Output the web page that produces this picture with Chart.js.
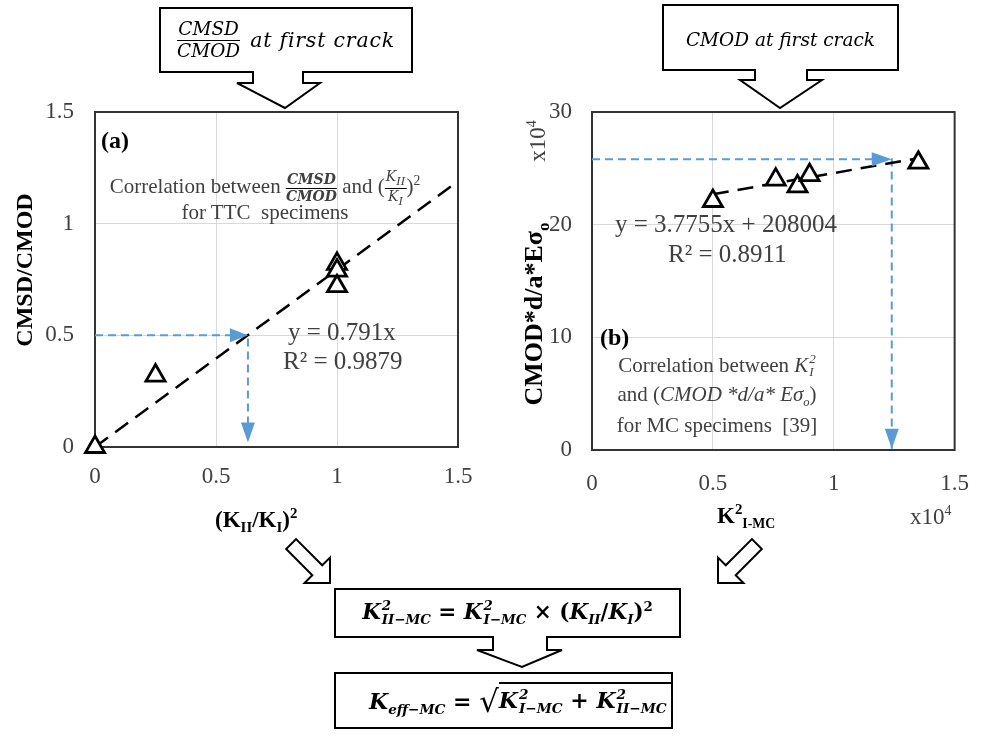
<!DOCTYPE html>
<html>
<head>
<meta charset="utf-8">
<script src="https://cdn.jsdelivr.net/npm/chart.js@4.4.1/dist/chart.umd.min.js"></script>
<style>
  html, body { margin: 0; padding: 0; background: #fff; }
  #wrap { position: relative; width: 989px; height: 737px; overflow: hidden; background: #fff; }
  canvas { position: absolute; top: 0; }
  svg { position: absolute; left: 0; top: 0; }
  .t { position: absolute; white-space: nowrap; line-height: 1; font-family: 'Liberation Serif', serif; color: #000; }
  .g { color: #404040; }
  .b { font-weight: bold; }
  .rot { transform: translate(-50%, -50%) rotate(-90deg); }
  .m { font-family: 'DejaVu Serif', serif; font-style: italic; }
  .up { font-style: normal; }
  .fr { display: inline-flex; flex-direction: column; vertical-align: middle; text-align: center; line-height: 1.1; }
  .fr > span:first-child { border-bottom: 1.5px solid #000; padding: 0 1px; }
  .ss { display: inline-flex; flex-direction: column; font-size: 0.62em; line-height: 1; vertical-align: 0.68em; margin-left: 1px; }
  .box { position: absolute; display: flex; align-items: center; justify-content: center; }
</style>
</head>
<body>
<div id="wrap">
  <canvas id="chartA" width="500" height="540" style="left:0"></canvas>
  <canvas id="chartB" width="489" height="540" style="left:500px"></canvas>

  <svg width="989" height="737" fill="#fff" stroke="#000" stroke-width="2">
    <!-- call-outs above the charts -->
    <path d="M160,8 H412 V72 H303 V83 H320 L285,108 L237,83 H253 V72 H160 Z"/>
    <path d="M663,5 H898 V70 H807 V80 H822 L780,108 L740,80 H755 V70 H663 Z"/>
    <!-- bottom boxes -->
    <path d="M335,589 H680 V637 H547 V650 H562 L522,667 L477,650 H493 V637 H335 Z"/>
    <rect x="335" y="673" width="337" height="55"/>
    <!-- hollow arrows -->
    <g transform="translate(330,583) rotate(45)"><path d="M0,0 L-18,-18 L-18,-7 L-55,-7 L-55,7 L-18,7 L-18,18 Z"/></g>
    <g transform="translate(718,583) rotate(135)"><path d="M0,0 L-18,-18 L-18,-7 L-55,-7 L-55,7 L-18,7 L-18,18 Z"/></g>
  </svg>

  <!-- top call-out texts -->
  <div class="box m" style="left:160px;top:8px;width:252px;height:64px;font-size:20.5px;gap:10px">
    <span class="fr" style="font-size:18.5px"><span>CMSD</span><span>CMOD</span></span><span style="letter-spacing:0.8px">at first crack</span>
  </div>
  <div class="box m" style="left:663px;top:5px;width:235px;height:65px;font-size:18.5px;padding-top:4px;box-sizing:border-box">CMOD at first crack</div>

  <!-- bottom formulas -->
  <div class="box m b" style="left:335px;top:589px;width:345px;height:48px;font-size:21.5px">
    <span>K<span class="ss"><span>2</span><span>II−MC</span></span><span class="up"> = </span>K<span class="ss"><span>2</span><span>I−MC</span></span><span class="up"> × (</span>K<sub style="font-size:0.62em">II</sub><span class="up">/</span>K<sub style="font-size:0.62em">I</sub><span class="up">)<sup style="font-size:0.62em">2</sup></span></span>
  </div>
  <div class="box m b" style="left:369px;top:673px;width:320px;height:55px;font-size:22px;justify-content:flex-start">
    <span>K<sub style="font-size:0.62em">eff−MC</sub><span class="up"> = </span><span class="up" style="font-size:1.4em;font-weight:normal;vertical-align:-0.1em">√</span><span style="border-top:2px solid #000;padding-top:3px;padding-right:4px">K<span class="ss"><span>2</span><span>I−MC</span></span><span class="up"> + </span>K<span class="ss"><span>2</span><span>II−MC</span></span></span></span>
  </div>

  <!-- chart (a) texts -->
  <div class="t b" style="left:101px;top:128px;font-size:24px">(a)</div>
  <div class="t g" style="left:265px;top:169px;font-size:21px;transform:translateX(-50%)">Correlation between <span class="fr m b" style="font-size:14px"><span>CMSD</span><span>CMOD</span></span> and (<span class="fr m" style="font-size:14px"><span>K<sub>II</sub></span><span>K<sub>I</sub></span></span>)<sup style="font-size:0.65em">2</sup></div>
  <div class="t g" style="left:265px;top:202px;font-size:21px;transform:translateX(-50%)">for TTC&nbsp; specimens</div>
  <div class="t g" style="left:288px;top:319px;font-size:25px">y = 0.791x</div>
  <div class="t g" style="left:283px;top:348px;font-size:25px">R² = 0.9879</div>
  <div class="t b rot" style="left:24px;top:270px;font-size:24px">CMSD/CMOD</div>
  <div class="t b" style="left:215px;top:506px;font-size:23px">(K<sub style="font-size:0.65em">II</sub>/K<sub style="font-size:0.65em">I</sub>)<sup style="font-size:0.65em">2</sup></div>

  <!-- chart (b) texts -->
  <div class="t b" style="left:600px;top:325px;font-size:24px">(b)</div>
  <div class="t g" style="left:615px;top:211px;font-size:25px">y = 3.7755x + 208004</div>
  <div class="t g" style="left:668px;top:241px;font-size:25px">R² = 0.8911</div>
  <div class="t g" style="left:717px;top:352px;font-size:21px;transform:translateX(-50%)">Correlation between <i>K</i><span class="ss" style="font-style:italic"><span>2</span><span>I</span></span></div>
  <div class="t g" style="left:717px;top:384px;font-size:21px;transform:translateX(-50%)">and (<i>CMOD *d/a* Eσ<sub style="font-size:0.6em">o</sub></i>)</div>
  <div class="t g" style="left:717px;top:415px;font-size:21px;transform:translateX(-50%)">for MC specimens&nbsp; [39]</div>
  <div class="t b rot" style="left:537px;top:314px;font-size:26px">CMOD*d/a*Eσ<sub style="font-size:0.65em">o</sub></div>
  <div class="t g rot" style="left:537px;top:141px;font-size:23px">x10<sup style="font-size:0.6em">4</sup></div>
  <div class="t b" style="left:717px;top:502px;font-size:23px">K<sup style="font-size:0.65em">2</sup><sub style="font-size:0.6em">I-MC</sub></div>
  <div class="t g" style="left:910px;top:504px;font-size:23px">x10<sup style="font-size:0.6em">4</sup></div>
</div>

<script>
// chart (a): CMSD/CMOD vs (KII/KI)^2
const ax = [0, 0.25, 1, 1, 1];
const ay = [0, 0.32, 0.82, 0.79, 0.72];
const trendAX = [0, 1.5];
const trendAY = [0, 1.19];
const guideAX = [0, 0.632, 0.632];
const guideAY = [0.5, 0.5, 0.02];
const ticksA = [0, 0.5, 1, 1.5];
const tickLabelsAX = ['0', '0.5', '1', '1.5'];
const tickLabelsAY = ['0', '0.5', '1', '1.5'];

// chart (b): CMOD*d/a*E.sigma vs KI^2 (both x10^4)
const bx = [0.5, 0.76, 0.85, 0.9, 1.35];
const by = [22.1, 24.0, 23.4, 24.4, 25.5];
const trendBX = [0.5, 1.35];
const trendBY = [22.7, 25.9];
const guideBX = [0, 1.24, 1.24];
const guideBY = [25.8, 25.8, 0.1];
const ticksBX = [0, 0.5, 1, 1.5];
const ticksBY = [0, 10, 20, 30];
const tickLabelsBX = ['0', '0.5', '1', '1.5'];
const tickLabelsBY = ['0', '10', '20', '30'];

const zip = (xs, ys) => xs.map((x, i) => ({ x, y: ys[i] }));
const BLUE = '#5b9bd5';

// 外框
const framePlugin = {
  id: 'frame',
  beforeDatasetsDraw(chart) {
    const { ctx, chartArea: a } = chart;
    ctx.save();
    ctx.strokeStyle = '#333';
    ctx.lineWidth = 2;
    ctx.strokeRect(a.left, a.top, a.right - a.left, a.bottom - a.top);
    ctx.restore();
  }
};

// 藍色箭頭
const arrowPlugin = {
  id: 'arrowHeads',
  afterDatasetsDraw(chart, args, opts) {
    const ctx = chart.ctx;
    (opts.heads || []).forEach(h => {
      const el = chart.getDatasetMeta(h.ds).data[h.pt];
      const dx = h.dir === 'right' ? 1 : 0, dy = h.dir === 'down' ? 1 : 0;
      const len = h.len, half = 7;
      const bxp = el.x - dx * len, byp = el.y - dy * len;
      ctx.save();
      ctx.fillStyle = BLUE;
      ctx.beginPath();
      ctx.moveTo(el.x, el.y);
      ctx.lineTo(bxp - dy * half, byp + dx * half);
      ctx.lineTo(bxp + dy * half, byp - dx * half);
      ctx.closePath();
      ctx.fill();
      ctx.restore();
    });
  }
};

const tickFont = { family: 'Liberation Serif', size: 23 };

function axis(min, max, vals, labels, pad, fit, isX) {
  return {
    type: 'linear', min, max,
    afterBuildTicks: s => { s.ticks = vals.map(v => ({ value: v })); },
    afterFit: s => { if (isX) s.height = fit; else s.width = fit; },
    ticks: { font: tickFont, color: '#404040', padding: pad, callback: (v, i) => labels[i] },
    grid: { color: '#d9d9d9', lineWidth: 1, drawTicks: false },
    border: { display: false }
  };
}

function makeChart(id, pts, trend, guide, heads, scales, padding) {
  return new Chart(document.getElementById(id), {
    type: 'scatter',
    data: {
      datasets: [
        { data: pts, pointStyle: 'triangle', pointRadius: 11, borderColor: '#000', backgroundColor: '#fff', borderWidth: 2.8, clip: false },
        { data: trend, showLine: true, borderColor: '#000', borderWidth: 2.5, borderDash: [16, 9], pointRadius: 0 },
        { data: guide, showLine: true, borderColor: BLUE, borderWidth: 2, borderDash: [8, 5], pointRadius: 0 }
      ]
    },
    options: {
      responsive: false,
      animation: false,
      events: [],
      layout: { padding },
      plugins: { legend: { display: false }, tooltip: { enabled: false }, arrowHeads: { heads } },
      scales
    },
    plugins: [framePlugin, arrowPlugin]
  });
}

makeChart('chartA', zip(ax, ay), zip(trendAX, trendAY), zip(guideAX, guideAY),
  [{ ds: 2, pt: 1, dir: 'right', len: 18 }, { ds: 2, pt: 2, dir: 'down', len: 20 }],
  {
    x: axis(0, 1.5, ticksA, tickLabelsAX, 16, 93, true),
    y: axis(0, 1.5, ticksA, tickLabelsAY, 21, 95, false)
  },
  { left: 0, top: 112, right: 42, bottom: 0 });

makeChart('chartB', zip(bx, by), zip(trendBX, trendBY), zip(guideBX, guideBY),
  [{ ds: 2, pt: 1, dir: 'right', len: 20 }, { ds: 2, pt: 2, dir: 'down', len: 20 }],
  {
    x: axis(0, 1.5, ticksBX, tickLabelsBX, 20, 90, true),
    y: axis(0, 30, ticksBY, tickLabelsBY, 20, 92, false)
  },
  { left: 0, top: 112, right: 31, bottom: 0 });
</script>
</body>
</html>
